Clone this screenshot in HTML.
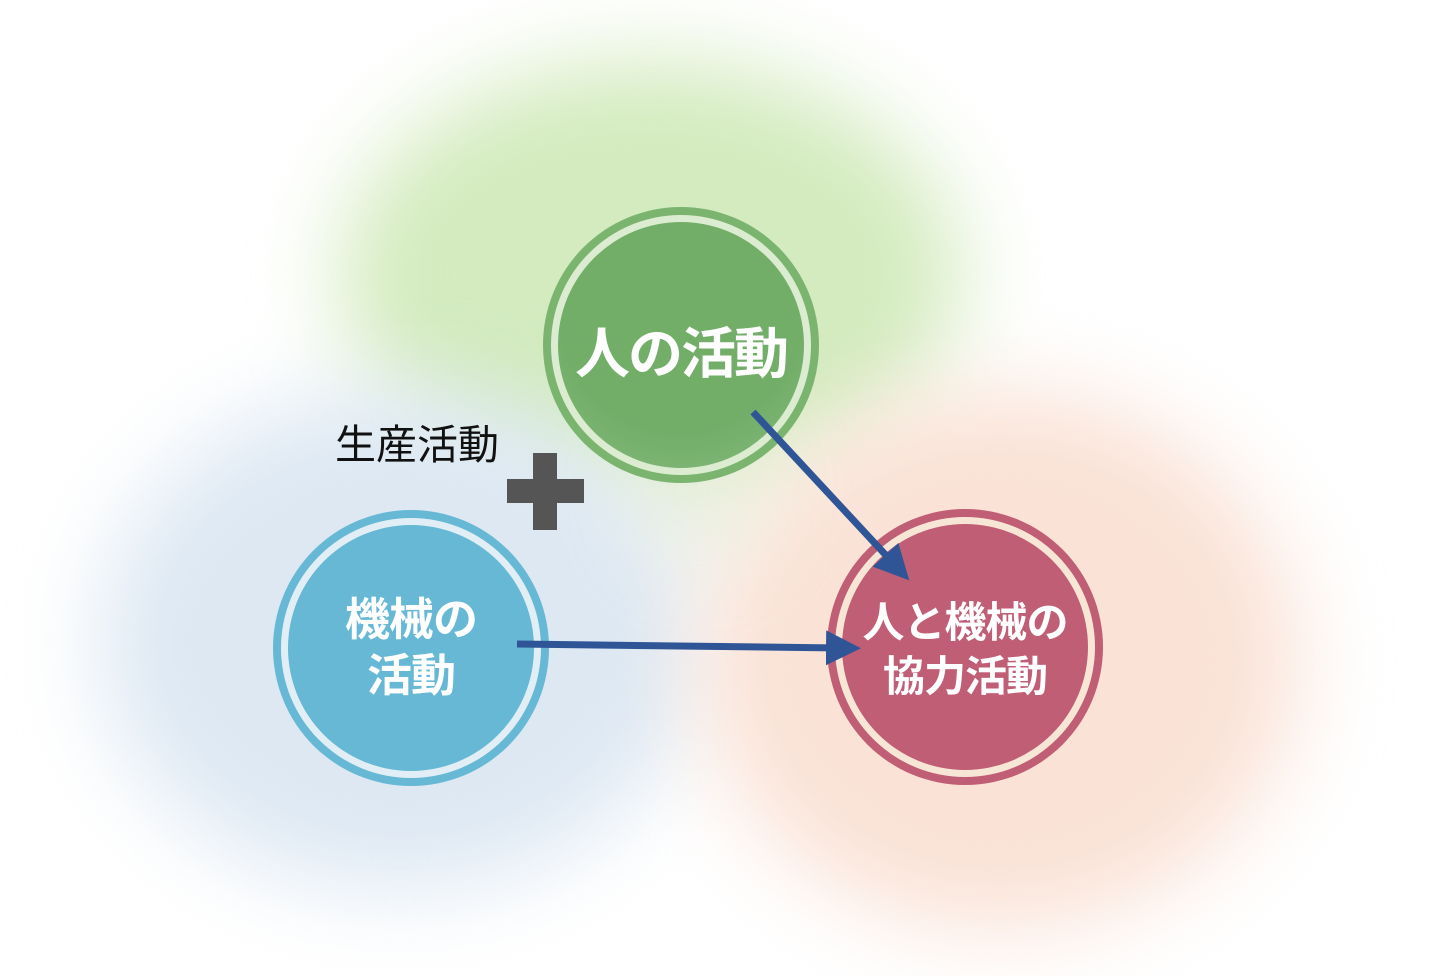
<!DOCTYPE html>
<html><head><meta charset="utf-8"><style>
html,body{margin:0;padding:0;background:#fff;width:1437px;height:976px;overflow:hidden;position:relative;font-family:"Liberation Sans","Noto Sans CJK JP",sans-serif}
.blob{position:absolute;border-radius:50%;filter:blur(45px)}
.c{position:absolute;border-radius:50%;box-sizing:border-box;display:flex;align-items:center;justify-content:center;text-align:center;color:#fff;font-weight:bold}
</style></head><body>
<div class="blob" style="left:340px;top:60px;width:620px;height:430px;background:#d3ebbe"></div>
<div class="blob" style="left:100px;top:390px;width:600px;height:500px;background:#dde8f3"></div>
<div class="blob" style="left:700px;top:390px;width:600px;height:540px;background:#fae2d6"></div>
<div class="blob" style="left:640px;top:420px;width:120px;height:140px;background:#e6ecd8;opacity:.7"></div>

<div class="c" style="left:543px;top:207px;width:276px;height:276px;background:#7ab46f;border:0"></div>
<div class="c" style="left:551px;top:215px;width:260px;height:260px;background:#dcecd0"></div>
<div class="c" style="left:558px;top:222px;width:246px;height:246px;background:radial-gradient(circle at 50% 35%,#72ae68 60%,#86b97e 100%);font-size:55px;letter-spacing:-2px;padding-top:8px">人の活動</div>

<div class="c" style="left:273px;top:510px;width:276px;height:276px;background:#66b8d4"></div>
<div class="c" style="left:281px;top:518px;width:260px;height:260px;background:#e2eef5"></div>
<div class="c" style="left:288px;top:525px;width:246px;height:246px;background:#66b8d4;font-size:45px;line-height:56px;letter-spacing:-1px">機械の<br>活動</div>

<div class="c" style="left:827px;top:509px;width:276px;height:276px;background:#c05e75"></div>
<div class="c" style="left:835px;top:517px;width:260px;height:260px;background:#f7e6d6"></div>
<div class="c" style="left:842px;top:524px;width:246px;height:246px;background:#c05e75;font-size:42px;line-height:54px;letter-spacing:-1px;padding-top:6px">人と機械の<br>協力活動</div>

<div style="position:absolute;left:335px;top:420px;font-size:41px;color:#111;line-height:50px">生産活動</div>
<div style="position:absolute;left:507px;top:479px;width:77px;height:24px;background:#555"></div>
<div style="position:absolute;left:533px;top:453px;width:24px;height:77px;background:#555"></div>

<svg width="1437" height="976" style="position:absolute;left:0;top:0">
<defs><marker id="a" markerWidth="5" markerHeight="5" refX="2" refY="2.5" orient="auto" markerUnits="strokeWidth"><path d="M0,0 L5,2.5 L0,5 Z" fill="#2f5597"/></marker></defs>
<line x1="753" y1="412" x2="895" y2="565" stroke="#2f5597" stroke-width="7" marker-end="url(#a)"/>
<line x1="517" y1="644" x2="840" y2="648" stroke="#2f5597" stroke-width="7" marker-end="url(#a)"/>
</svg>
</body></html>
